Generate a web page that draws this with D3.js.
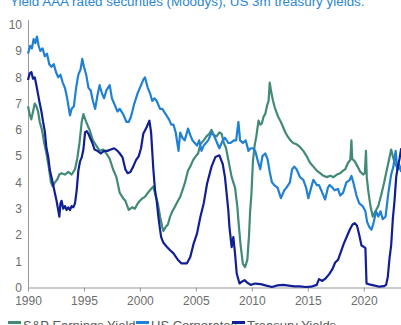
<!DOCTYPE html>
<html>
<head>
<meta charset="utf-8">
<script src="https://cdn.jsdelivr.net/npm/d3@7"></script>
<style>
  html, body { margin: 0; padding: 0; background: #fff; overflow: hidden; }
  svg { display: block; font-family: "Liberation Sans", Arial, sans-serif; }
</style>
</head>
<body>
<svg id="chart" width="401" height="325"></svg>
<script>
// ---- data (decimal year, percent) ----
const titleText = "Yield AAA rated securities (Moodys), US 3m treasury yields.";
const seriesNames = ["S&P Earnings Yield", "US Corporates", "Treasury Yields"];
const xTicks = [1990, 1995, 2000, 2005, 2010, 2015, 2020];
const yTicks = [0, 1, 2, 3, 4, 5, 6, 7, 8, 9, 10];

const spEarningsYield = [
  [1990.0,6.9],[1990.15,6.6],[1990.3,6.4],[1990.45,6.7],[1990.6,7.0],[1990.75,6.9],[1990.9,6.7],
  [1991.05,6.3],[1991.25,6.0],[1991.45,5.5],[1991.65,5.1],[1991.85,4.6],[1992.05,4.0],[1992.2,3.85],
  [1992.4,4.0],[1992.6,4.1],[1992.8,4.3],[1993.0,4.35],[1993.3,4.3],[1993.6,4.4],[1993.9,4.3],
  [1994.2,4.5],[1994.4,4.9],[1994.6,5.5],[1994.8,6.3],[1994.95,6.6],[1995.2,6.3],[1995.5,6.0],
  [1995.8,5.6],[1996.1,5.4],[1996.4,5.2],[1996.7,5.25],[1997.0,5.1],[1997.3,4.9],[1997.6,4.5],
  [1997.9,4.2],[1998.2,3.6],[1998.5,3.4],[1998.7,3.3],[1999.0,2.95],[1999.3,3.05],[1999.55,3.0],
  [1999.8,3.2],[2000.0,3.3],[2000.25,3.4],[2000.45,3.45],[2000.7,3.6],[2000.9,3.7],[2001.2,3.85],
  [2001.4,3.5],[2001.6,3.2],[2001.8,2.7],[2002.0,2.3],[2002.1,2.15],[2002.3,2.3],[2002.5,2.4],
  [2002.7,2.7],[2002.9,2.9],[2003.1,3.05],[2003.4,3.3],[2003.6,3.45],[2003.8,3.7],[2004.0,3.95],
  [2004.3,4.45],[2004.5,4.6],[2004.75,4.85],[2005.0,5.0],[2005.2,5.1],[2005.4,5.45],[2005.7,5.6],
  [2005.95,5.75],[2006.2,5.85],[2006.4,6.0],[2006.6,5.8],[2006.85,5.75],[2007.1,5.9],[2007.3,5.85],
  [2007.5,5.5],[2007.7,5.3],[2007.9,4.85],[2008.2,4.2],[2008.5,3.8],[2008.7,3.1],[2008.85,2.3],
  [2009.0,1.6],[2009.1,1.25],[2009.2,0.9],[2009.4,0.78],[2009.6,1.05],[2009.75,2.0],[2009.85,2.9],
  [2009.97,3.6],[2010.1,4.8],[2010.25,5.4],[2010.4,5.75],[2010.6,6.35],[2010.75,6.2],[2010.9,6.25],
  [2011.05,6.5],[2011.2,6.6],[2011.35,6.9],[2011.5,7.1],[2011.6,7.8],[2011.75,7.4],[2011.9,7.1],
  [2012.05,6.85],[2012.35,6.5],[2012.6,6.3],[2012.8,6.1],[2013.0,5.9],[2013.2,5.75],[2013.45,5.6],
  [2013.7,5.5],[2014.0,5.45],[2014.3,5.35],[2014.6,5.2],[2014.9,5.0],[2015.2,4.75],[2015.5,4.6],
  [2015.8,4.45],[2016.1,4.35],[2016.4,4.25],[2016.7,4.2],[2017.0,4.25],[2017.3,4.2],[2017.6,4.3],
  [2017.9,4.35],[2018.15,4.45],[2018.35,4.5],[2018.6,4.75],[2018.8,4.85],[2018.9,5.6],[2018.97,4.9],
  [2019.2,4.8],[2019.45,4.6],[2019.7,4.4],[2019.95,4.3],[2020.1,4.35],[2020.2,5.2],[2020.27,4.2],
  [2020.4,3.7],[2020.6,3.1],[2020.8,2.7],[2021.05,2.9],[2021.3,3.1],[2021.55,3.5],[2021.8,3.95],
  [2022.05,4.45],[2022.3,4.95],[2022.45,5.25],[2022.6,5.0],[2022.8,4.7],[2023.1,4.5],[2023.35,4.6]
];

const usCorporates = [
  [1990.0,8.9],[1990.2,9.2],[1990.35,9.1],[1990.5,9.45],[1990.65,9.3],[1990.8,9.55],[1990.95,9.2],
  [1991.1,9.0],[1991.3,9.1],[1991.5,8.8],[1991.7,8.9],[1991.9,8.5],[1992.1,8.4],[1992.3,8.5],
  [1992.5,8.2],[1992.7,8.0],[1992.9,8.1],[1993.1,7.8],[1993.3,7.6],[1993.5,7.2],[1993.75,6.55],
  [1993.9,6.8],[1994.1,6.9],[1994.3,7.6],[1994.5,8.1],[1994.7,8.3],[1994.85,8.7],[1995.0,8.4],
  [1995.2,8.1],[1995.4,7.6],[1995.6,7.5],[1995.8,7.1],[1996.0,6.8],[1996.2,7.3],[1996.4,7.7],
  [1996.6,7.4],[1996.8,7.2],[1997.0,7.5],[1997.3,7.7],[1997.5,7.2],[1997.8,6.9],[1998.0,6.7],
  [1998.2,6.8],[1998.5,6.6],[1998.8,6.3],[1999.0,6.3],[1999.2,6.5],[1999.5,7.0],[1999.8,7.4],
  [2000.0,7.6],[2000.3,7.9],[2000.45,8.0],[2000.7,7.6],[2000.9,7.4],[2001.1,7.1],[2001.3,7.2],
  [2001.5,7.1],[2001.8,6.8],[2002.0,6.8],[2002.3,6.6],[2002.6,6.4],[2002.8,6.2],[2003.0,6.2],
  [2003.2,5.9],[2003.45,5.2],[2003.6,5.9],[2003.8,5.7],[2004.0,5.6],[2004.3,6.05],[2004.5,5.8],
  [2004.7,5.6],[2004.9,5.5],[2005.1,5.4],[2005.3,5.6],[2005.5,5.2],[2005.7,5.4],[2005.9,5.5],
  [2006.1,5.6],[2006.4,5.9],[2006.6,5.8],[2006.9,5.5],[2007.1,5.3],[2007.4,5.6],[2007.6,5.7],
  [2007.9,5.5],[2008.1,5.5],[2008.4,5.6],[2008.6,5.6],[2008.8,6.3],[2008.95,5.6],[2009.2,5.5],
  [2009.45,5.6],[2009.7,5.2],[2009.9,5.3],[2010.1,5.3],[2010.3,5.2],[2010.55,4.8],[2010.75,4.5],
  [2010.95,5.0],[2011.2,5.1],[2011.4,4.9],[2011.6,4.4],[2011.8,4.0],[2012.0,3.9],[2012.3,3.8],
  [2012.6,3.4],[2012.9,3.7],[2013.1,3.8],[2013.4,4.0],[2013.6,4.5],[2013.8,4.6],[2014.0,4.5],
  [2014.3,4.2],[2014.6,4.1],[2014.85,3.8],[2015.05,3.4],[2015.3,3.8],[2015.5,4.1],[2015.8,3.9],
  [2016.0,3.9],[2016.3,3.6],[2016.55,3.35],[2016.8,3.8],[2016.95,3.9],[2017.2,3.8],[2017.4,3.7],
  [2017.7,3.75],[2017.9,3.5],[2018.15,3.6],[2018.45,4.0],[2018.75,4.1],[2018.9,4.25],[2019.1,3.95],
  [2019.35,3.5],[2019.6,3.2],[2019.9,3.1],[2020.15,2.9],[2020.3,2.5],[2020.5,2.3],[2020.7,2.2],
  [2020.9,2.5],[2021.1,2.9],[2021.3,2.7],[2021.5,2.9],[2021.7,2.6],[2021.95,2.7],[2022.2,3.6],
  [2022.45,4.3],[2022.65,4.6],[2022.85,5.2],[2023.0,4.5],[2023.15,4.7],[2023.35,4.4]
];

const treasuryYields = [
  [1990.0,7.9],[1990.15,8.15],[1990.3,8.2],[1990.45,7.95],[1990.6,8.0],[1990.75,7.7],[1990.9,7.35],
  [1991.05,7.0],[1991.2,6.7],[1991.35,6.3],[1991.5,5.95],[1991.65,5.3],[1991.8,5.0],[1991.96,4.45],
  [1992.1,4.2],[1992.25,3.9],[1992.4,3.6],[1992.55,3.3],[1992.7,2.95],[1992.8,2.7],[1992.9,3.2],
  [1993.0,3.3],[1993.15,3.0],[1993.3,3.1],[1993.45,2.95],[1993.6,3.05],[1993.75,2.95],[1993.9,3.1],
  [1994.05,3.05],[1994.2,3.2],[1994.35,3.7],[1994.5,4.45],[1994.65,4.8],[1994.8,4.95],[1994.95,5.25],
  [1995.1,5.9],[1995.25,5.95],[1995.4,5.85],[1995.55,5.7],[1995.75,5.5],[1995.95,5.25],[1996.2,5.2],
  [1996.5,5.1],[1996.8,5.2],[1997.1,5.2],[1997.4,5.25],[1997.7,5.3],[1998.0,5.2],[1998.2,5.1],
  [1998.45,4.95],[1998.7,4.5],[1998.9,4.35],[1999.15,4.4],[1999.4,4.6],[1999.65,4.85],[1999.9,5.0],
  [2000.1,5.3],[2000.3,5.85],[2000.6,6.1],[2000.85,6.35],[2001.0,5.9],[2001.1,5.2],[2001.2,4.5],
  [2001.35,3.7],[2001.5,3.3],[2001.65,2.7],[2001.8,2.2],[2001.9,1.92],[2002.1,1.7],[2002.4,1.55],
  [2002.7,1.42],[2003.0,1.3],[2003.4,1.05],[2003.7,0.92],[2004.2,0.92],[2004.5,1.16],[2004.8,1.67],
  [2005.1,2.05],[2005.4,2.68],[2005.7,3.2],[2006.0,3.95],[2006.4,4.6],[2006.75,4.97],[2007.1,5.03],
  [2007.4,4.7],[2007.6,4.2],[2007.75,3.57],[2007.9,2.94],[2008.0,2.3],[2008.2,1.54],[2008.35,1.92],
  [2008.5,1.29],[2008.65,0.53],[2008.9,0.15],[2009.1,0.22],[2009.35,0.28],[2009.6,0.18],[2009.9,0.1],
  [2010.3,0.15],[2010.8,0.13],[2011.3,0.07],[2011.8,0.02],[2012.3,0.08],[2012.8,0.1],[2013.3,0.07],
  [2013.8,0.04],[2014.3,0.04],[2014.8,0.02],[2015.3,0.03],[2015.8,0.1],[2016.0,0.32],[2016.3,0.25],
  [2016.6,0.35],[2016.9,0.5],[2017.2,0.7],[2017.45,0.95],[2017.7,1.05],[2017.95,1.35],[2018.2,1.65],
  [2018.5,1.95],[2018.75,2.2],[2019.0,2.4],[2019.2,2.45],[2019.4,2.35],[2019.6,2.0],[2019.8,1.6],
  [2020.0,1.55],[2020.15,1.5],[2020.25,0.15],[2020.5,0.12],[2020.9,0.08],[2021.4,0.03],[2021.8,0.05],
  [2022.0,0.1],[2022.15,0.4],[2022.3,1.1],[2022.45,1.6],[2022.6,2.6],[2022.75,3.3],[2022.9,4.2],
  [2023.05,4.6],[2023.2,4.9],[2023.35,5.3]
];

const seriesData = [spEarningsYield, usCorporates, treasuryYields];
const seriesColors = ["#418a78", "#1f80d6", "#101f96"];

// ---- layout ----
const svg = d3.select("#chart");
const x = d3.scaleLinear().domain([1990, 2023.33]).range([28, 401]);
const y = d3.scaleLinear().domain([0, 10.2]).range([287.5, 19.5]);

// title (cut at top as in the reference)
svg.append("text")
  .attr("x", 10).attr("y", 6)
  .attr("fill", "#2a86d4")
  .attr("font-size", 13.4)
  .text(titleText);

// x axis
const xAxis = svg.append("g")
  .attr("transform", `translate(0,${y(0)})`)
  .call(d3.axisBottom(x).tickValues(xTicks).tickFormat(d3.format("d")).tickSize(4).tickSizeOuter(0));
xAxis.select(".domain").attr("stroke", "#999");
xAxis.selectAll(".tick line").attr("stroke", "#999");
xAxis.selectAll(".tick text").attr("fill", "#6d6d6d").attr("font-size", 12).attr("dy", "0.9em")
  .attr("font-family", "Liberation Sans, Arial, sans-serif");

// y axis
const yAxis = svg.append("g")
  .attr("transform", `translate(${x(1990)},0)`)
  .call(d3.axisLeft(y).tickValues(yTicks).tickFormat(d3.format("d")).tickSize(0).tickPadding(6));
yAxis.select(".domain").attr("stroke", "#999");
yAxis.selectAll(".tick text").attr("fill", "#6d6d6d").attr("font-size", 12)
  .attr("font-family", "Liberation Sans, Arial, sans-serif");

// lines
const line = d3.line().x(d => x(d[0])).y(d => y(d[1]));
seriesData.forEach((s, i) => {
  svg.append("path")
    .datum(s)
    .attr("fill", "none")
    .attr("stroke", seriesColors[i])
    .attr("stroke-width", 2.2)
    .attr("stroke-linejoin", "round")
    .attr("d", line);
});

// legend (cut at bottom as in the reference)
const legendX = [8, 136, 232];
const legend = svg.append("g");
seriesNames.forEach((n, i) => {
  legend.append("line")
    .attr("x1", legendX[i]).attr("x2", legendX[i] + 13)
    .attr("y1", 322.5).attr("y2", 322.5)
    .attr("stroke", seriesColors[i]).attr("stroke-width", 3);
  legend.append("text")
    .attr("x", legendX[i] + 15).attr("y", 330)
    .attr("fill", "#595959").attr("font-size", 13)
    .text(n);
});
</script>
</body>
</html>
